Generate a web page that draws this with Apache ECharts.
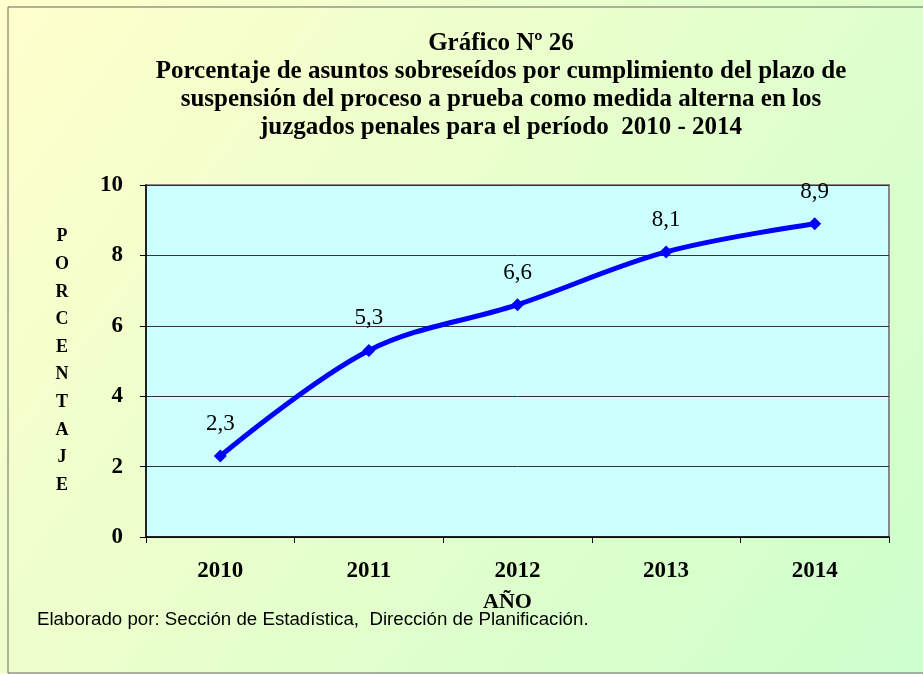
<!DOCTYPE html>
<html>
<head>
<meta charset="utf-8">
<script src="https://cdn.jsdelivr.net/npm/echarts@6/dist/echarts.min.js"></script>
<style>
  html, body { margin: 0; padding: 0; }
  #main { width: 923px; height: 674px; }
</style>
</head>
<body>
<div id="main"></div>
<script>
var years = ['2010', '2011', '2012', '2013', '2014'];
var porcentaje = [2.3, 5.3, 6.6, 8.1, 8.9];
var yTicks = [0, 2, 4, 6, 8, 10];

var serif = '"Liberation Serif", "Times New Roman", serif';

var chart = echarts.init(document.getElementById('main'));

var option = {
    backgroundColor: {
        type: 'linear', x: 0, y: 0, x2: 1, y2: 1,
        colorStops: [
            { offset: 0, color: '#ffffcc' },
            { offset: 1, color: '#ccffcc' }
        ]
    },
    title: {
        text: 'Gráfico Nº 26\nPorcentaje de asuntos sobreseídos por cumplimiento del plazo de\nsuspensión del proceso a prueba como medida alterna en los\njuzgados penales para el período  2010 - 2014',
        left: 496,
        textAlign: 'center',
        top: 25,
        textStyle: {
            fontFamily: serif,
            fontWeight: 'bold',
            fontSize: 25,
            lineHeight: 28,
            color: '#000'
        }
    },
    grid: {
        left: 146,
        right: 34,
        top: 185,
        bottom: 137,
        show: true,
        backgroundColor: '#ccffff',
        borderColor: '#888888',
        borderWidth: 2
    },
    xAxis: {
        type: 'category',
        data: years,
        boundaryGap: true,
        name: 'AÑO',
        nameLocation: 'middle',
        nameGap: 54,
        nameTextStyle: {
            fontFamily: serif, fontWeight: 'bold', fontSize: 22, color: '#000',
            padding: [0, 20, 0, 0]
        },
        axisLine: { lineStyle: { color: '#000', width: 1.5 } },
        axisTick: { show: true, length: 6, inside: false, lineStyle: { color: '#000' } },
        axisLabel: { margin: 23, fontFamily: serif, fontWeight: 'bold', fontSize: 23, color: '#000' }
    },
    yAxis: {
        type: 'value',
        min: 0,
        max: 10,
        interval: 2,
        axisLine: { show: true, lineStyle: { color: '#000', width: 1.5 } },
        axisTick: { show: true, length: 6, lineStyle: { color: '#000' } },
        axisLabel: {
            margin: 23,
            fontFamily: serif, fontWeight: 'bold', fontSize: 23, color: '#000',
            formatter: function (v) { return yTicks.indexOf(v) >= 0 ? String(v) : ''; }
        },
        splitLine: { show: true, lineStyle: { color: '#333', width: 1 } }
    },
    series: [{
        type: 'line',
        data: porcentaje,
        smooth: 0.35,
        symbol: 'diamond',
        symbolSize: 13,
        lineStyle: { color: '#0000ff', width: 5 },
        itemStyle: { color: '#0000ff' },
        label: {
            show: true,
            position: 'top',
            distance: 14,
            fontFamily: serif,
            fontSize: 23,
            color: '#000',
            formatter: function (p) { return String(p.value).replace('.', ','); }
        }
    }],
    graphic: [
        {
            type: 'rect',
            shape: { x: 8, y: 7, width: 930, height: 666 },
            style: { fill: 'none', stroke: '#666', lineWidth: 1 },
            silent: true
        },
        {
            type: 'text',
            x: 62,
            y: 361,
            style: {
                text: 'PORCENTAJE'.split('').join('\n'),
                fontFamily: serif,
                fontWeight: 'bold',
                fontSize: 18,
                lineHeight: 27.6,
                fill: '#000',
                align: 'center',
                verticalAlign: 'middle'
            }
        },
        {
            type: 'text',
            x: 37,
            y: 620,
            style: {
                text: 'Elaborado por: Sección de Estadística,  Dirección de Planificación.',
                fontFamily: '"Liberation Sans", Arial, sans-serif',
                fontSize: 18.7,
                fill: '#000',
                verticalAlign: 'middle'
            },
            z: 100
        }
    ]
};

chart.setOption(option);
</script>
</body>
</html>
